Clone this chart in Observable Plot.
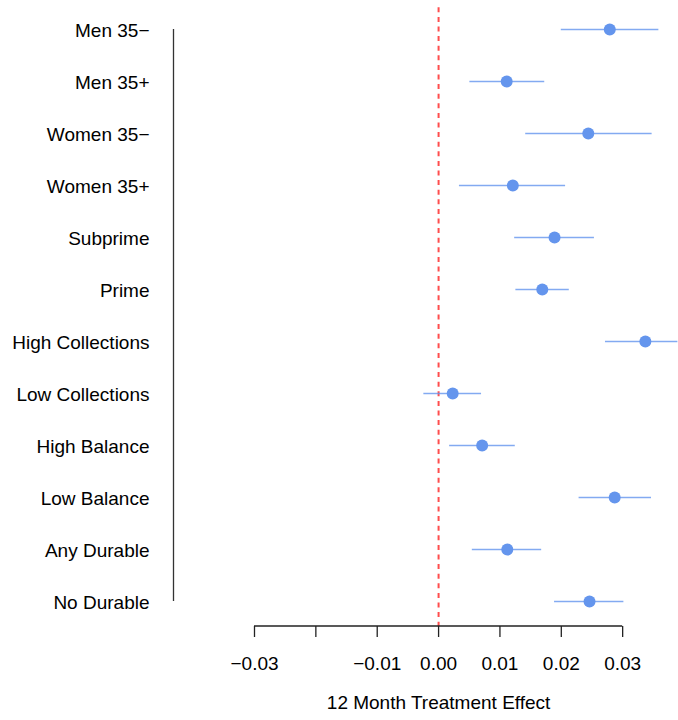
<!DOCTYPE html>
<html>
<head>
<meta charset="utf-8">
<script src="https://cdn.jsdelivr.net/npm/d3@7"></script>
<script src="https://cdn.jsdelivr.net/npm/@observablehq/plot@0.6"></script>
<style>
  html, body { margin: 0; padding: 0; background: #fff; }
  svg { font-family: "Liberation Sans", Arial, Helvetica, sans-serif; }
</style>
</head>
<body>
<div id="chart"></div>
<script>
// Subgroup estimates of the 12-month treatment effect with confidence intervals
const groups = [
  "Men 35−", "Men 35+", "Women 35−", "Women 35+", "Subprime", "Prime",
  "High Collections", "Low Collections", "High Balance", "Low Balance",
  "Any Durable", "No Durable"
];
const estimates = [0.0279, 0.0111, 0.0244, 0.0121, 0.0189, 0.0169, 0.0337, 0.0023, 0.0071, 0.0287, 0.0112, 0.0246];
const lower     = [0.0200, 0.0051, 0.0142, 0.0034, 0.0124, 0.0126, 0.0272, -0.0024, 0.0018, 0.0229, 0.0055, 0.0189];
const upper     = [0.0359, 0.0173, 0.0348, 0.0207, 0.0254, 0.0213, 0.0390, 0.0070, 0.0125, 0.0347, 0.0168, 0.0302];

const xTicks = [-0.03, -0.02, -0.01, 0.00, 0.01, 0.02, 0.03];
const xTickLabels = ["−0.03", "", "−0.01", "0.00", "0.01", "0.02", "0.03"];
const xTitle = "12 Month Treatment Effect";

const rows = groups.map((g, i) => ({group: g, est: estimates[i], lo: lower[i], hi: upper[i]}));

const W = 678, H = 720;
const marginLeft = 173, marginRight = 0, marginTop = 4, marginBottom = 94;
const xDomain = [-0.0432, 0.0391];
const blue = "#6495ED";
const fs = 19;

const chart = Plot.plot({
  width: W,
  height: H,
  marginLeft, marginRight, marginTop, marginBottom,
  style: {fontSize: fs + "px", fontFamily: "'Liberation Sans', Arial, Helvetica, sans-serif", color: "#000", background: "#fff"},
  x: {domain: xDomain},
  y: {type: "point", domain: groups, padding: 0.44},
  marks: [
    // left axis line spanning the first to the last group
    Plot.ruleX([{x: xDomain[0], top: groups[0], bottom: groups[groups.length - 1]}],
      {x: "x", y1: "top", y2: "bottom", stroke: "#333", strokeWidth: 1.3}),
    Plot.axisY({tickSize: 0, tickPadding: 24, fontSize: fs, fill: "#000", dy: 1}),
    Plot.axisX({
      ticks: xTicks,
      tickSize: 11,
      tickPadding: 19,
      tickFormat: (d, i) => xTickLabels[i],
      stroke: "#222",
      strokeWidth: 1.3,
      fill: "#000",
      fontSize: fs,
      label: null
    }),
    // reference line at zero effect
    Plot.ruleX([0], {stroke: "#ff4d4d", strokeWidth: 2, strokeDasharray: "5,4.6", strokeDashoffset: 6.3}),
    // confidence intervals
    Plot.ruleY(rows, {y: "group", x1: "lo", x2: "hi", stroke: blue, strokeOpacity: 0.8, strokeWidth: 1.6}),
    // point estimates
    Plot.dot(rows, {y: "group", x: "est", r: 6, fill: blue, stroke: "none"}),
    Plot.text([xTitle], {x: d3.mean(d3.extent(xTicks)), frameAnchor: "bottom", dy: 82.5, fontSize: fs, fill: "#000"})
  ]
});

// bottom axis line from the first to the last tick
const sx = chart.scale("x");
d3.select(chart).append("line")
  .attr("x1", sx.apply(d3.min(xTicks)))
  .attr("x2", sx.apply(d3.max(xTicks)))
  .attr("y1", H - marginBottom)
  .attr("y2", H - marginBottom)
  .attr("stroke", "#222")
  .attr("stroke-width", 1.3);

document.getElementById("chart").appendChild(chart);
</script>
</body>
</html>
